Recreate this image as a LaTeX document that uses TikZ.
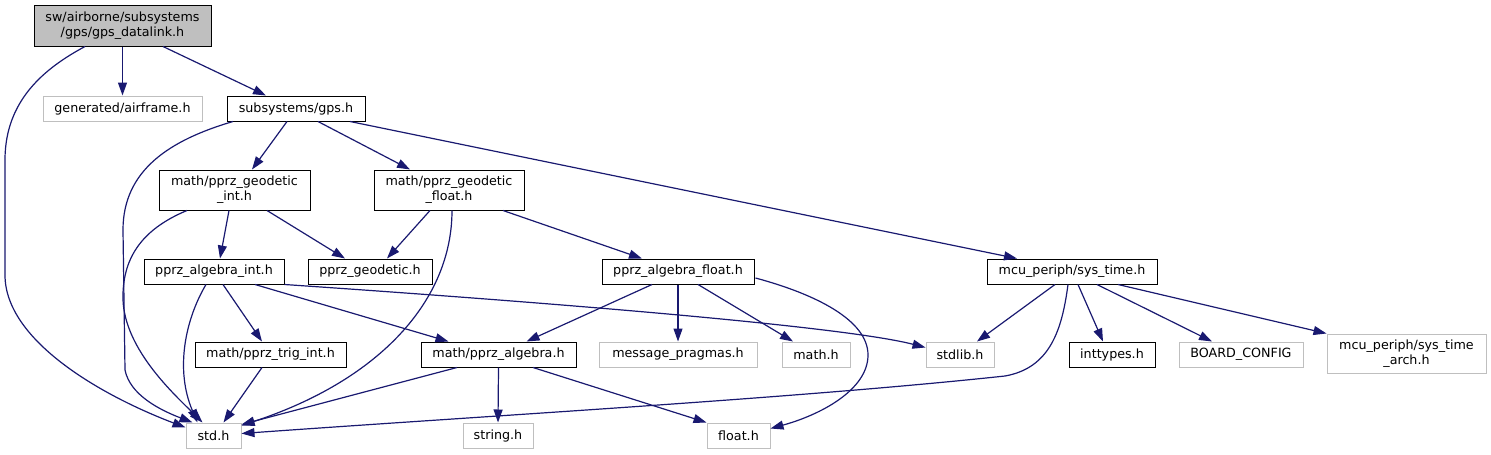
\documentclass[tikz,border=0pt]{standalone}
\usepackage{fontspec}
\setmainfont{DejaVu Sans}
\usetikzlibrary{arrows.meta,calc}

\definecolor{edgeblue}{HTML}{191970}
\definecolor{extgray}{HTML}{BFBFBF}

\begin{document}
\begin{tikzpicture}[x=1pt,y=-1pt,
    hdr/.style={draw=black,line width=1pt,fill=white,inner sep=0pt,
        minimum height=25pt,align=center,font=\fontsize{12.7}{15}\selectfont},
    exthdr/.style={hdr,draw=extgray},
    dep/.style={edgeblue,line width=1.2pt,-{Triangle[length=13pt,width=9pt]}}]
    \useasboundingbox (0,0) rectangle (1491,455);
    % header files
    \node[hdr,fill=extgray,minimum width=177pt,minimum height=41pt] (root) at (122.5,25.5) {sw/airborne/subsystems\\/gps/gps\_datalink.h};
    \node[exthdr,minimum width=159pt] (airframe) at (122.5,108.5) {generated/airframe.h};
    \node[hdr,minimum width=138pt] (gps) at (296,108.5) {subsystems/gps.h};
    \node[hdr,minimum width=151pt,minimum height=40pt] (geoint) at (234.5,190) {math/pprz\_geodetic\\\_int.h};
    \node[hdr,minimum width=150pt,minimum height=40pt] (geofloat) at (449,190) {math/pprz\_geodetic\\\_float.h};
    \node[hdr,minimum width=140pt] (algint) at (214,271.5) {pprz\_algebra\_int.h};
    \node[hdr,minimum width=124pt] (geodetic) at (370,271.5) {pprz\_geodetic.h};
    \node[hdr,minimum width=152pt] (algfloat) at (678,271.5) {pprz\_algebra\_float.h};
    \node[hdr,minimum width=170pt] (systime) at (1072,271.5) {mcu\_periph/sys\_time.h};
    \node[hdr,minimum width=151pt] (trigint) at (270.5,354.5) {math/pprz\_trig\_int.h};
    \node[hdr,minimum width=155pt] (alg) at (498.5,354.5) {math/pprz\_algebra.h};
    \node[exthdr,minimum width=158pt] (pragmas) at (678,354.5) {message\_pragmas.h};
    \node[exthdr,minimum width=68pt] (mathh) at (816,354.5) {math.h};
    \node[exthdr,minimum width=68pt] (stdlib) at (960,354.5) {stdlib.h};
    \node[hdr,minimum width=86pt] (inttypes) at (1112,354.5) {inttypes.h};
    \node[exthdr,minimum width=124pt] (board) at (1241,354.5) {BOARD\_CONFIG};
    \node[exthdr,minimum width=159pt,minimum height=39pt] (sysarch) at (1406.5,353.5) {mcu\_periph/sys\_time\\\_arch.h};
    \node[exthdr,minimum width=55pt] (std) at (213.5,435.5) {std.h};
    \node[exthdr,minimum width=70pt] (string) at (498,435.5) {string.h};
    \node[exthdr,minimum width=63pt] (float) at (738.5,435.5) {float.h};
    % includes of gps_datalink.h
    \draw[dep] ($(root.south)+(-37.5,0)$) .. controls (45,68) and (5,100) .. (5,160)
        -- (5,275) .. controls (5,340) and (100,395) .. ($(std.north west)+(0,5)$);
    \draw[dep] (root.south) -- (airframe.north);
    \draw[dep] ($(root.south)+(40.5,0)$) -- ($(gps.north)+(-30,0)$);
    % includes of gps.h
    \draw[dep] ($(gps.south)+(-63,0)$) .. controls (170,140) and (123,170) .. (123,230)
        -- (125,370) .. controls (130,395) and (160,410) .. ($(std.north)+(-21,0)$);
    \draw[dep] ($(gps.south)+(-9,0)$) -- ($(geoint.north)+(17.5,0)$);
    \draw[dep] ($(gps.south)+(22,0)$) -- ($(geofloat.north)+(-39,0)$);
    \draw[dep] ($(gps.south)+(54,0)$) -- ($(systime.north)+(-55,0)$);
    % geodetic
    \draw[dep] ($(geoint.south)+(-47.5,0)$) .. controls (140,230) and (122,260) .. (123,300)
        .. controls (125,350) and (175,395) .. ($(std.north)+(-11,0)$);
    \draw[dep] ($(geoint.south)+(-5.5,0)$) -- ($(algint.north)+(6,0)$);
    \draw[dep] ($(geoint.south)+(32.5,0)$) -- ($(geodetic.north)+(-25,0)$);
    \draw[dep] ($(geofloat.south)+(-19,0)$) -- ($(geodetic.north)+(17,0)$);
    \draw[dep] ($(geofloat.south)+(3,0)$) .. controls (452,300) and (380,380) .. ($(std.north east)+(0,3)$);
    \draw[dep] ($(geofloat.south)+(54,0)$) -- ($(algfloat.north)+(-36,0)$);
    % algebra
    \draw[dep] ($(algint.south)+(-8,0)$) .. controls (185,320) and (175,370) .. ($(std.north)+(-16,0)$);
    \draw[dep] ($(algint.south)+(9,0)$) -- ($(trigint.north)+(-8.5,0)$);
    \draw[dep] ($(algint.south)+(41,0)$) -- ($(alg.north)+(-50,0)$);
    \draw[dep] (algint.south east) .. controls (600,306) and (850,328) .. ($(stdlib.west)+(0,-7)$);
    \draw[dep] ($(algfloat.south)+(-26,0)$) -- ($(alg.north)+(28,0)$);
    \draw[dep] (algfloat.south) -- (pragmas.north);
    \draw[dep] ($(algfloat.south)+(20,0)$) -- ($(mathh.north)+(-23,0)$);
    \draw[dep] ($(algfloat.east)+(1,6.5)$) .. controls (815,294) and (868,320) .. (868,355)
        .. controls (868,390) and (820,415) .. ($(float.east)+(0,-7)$);
    % sys_time
    \draw[dep] ($(systime.south)+(-17,0)$) -- ($(stdlib.north)+(17,0)$);
    \draw[dep] ($(systime.south)+(-4,0)$) .. controls (1062,330) and (1050,368) .. (1005,376)
        .. controls (800,398) and (500,415) .. ($(std.east)+(0,-2)$);
    \draw[dep] ($(systime.south)+(6,0)$) -- ($(inttypes.north)+(-9,0)$);
    \draw[dep] ($(systime.south)+(25,0)$) -- ($(board.north)+(-29,0)$);
    \draw[dep] ($(systime.south)+(46,0)$) -- (sysarch.north west);
    % bottom row
    \draw[dep] ($(trigint.south)+(-8.5,0)$) -- ($(std.north)+(10,0)$);
    \draw[dep] ($(alg.south)+(-41.5,0)$) -- ($(std.north east)+(0,2)$);
    \draw[dep] (alg.south) -- (string.north);
    \draw[dep] ($(alg.south)+(34.5,0)$) -- (float.north west);
\end{tikzpicture}
\end{document}
